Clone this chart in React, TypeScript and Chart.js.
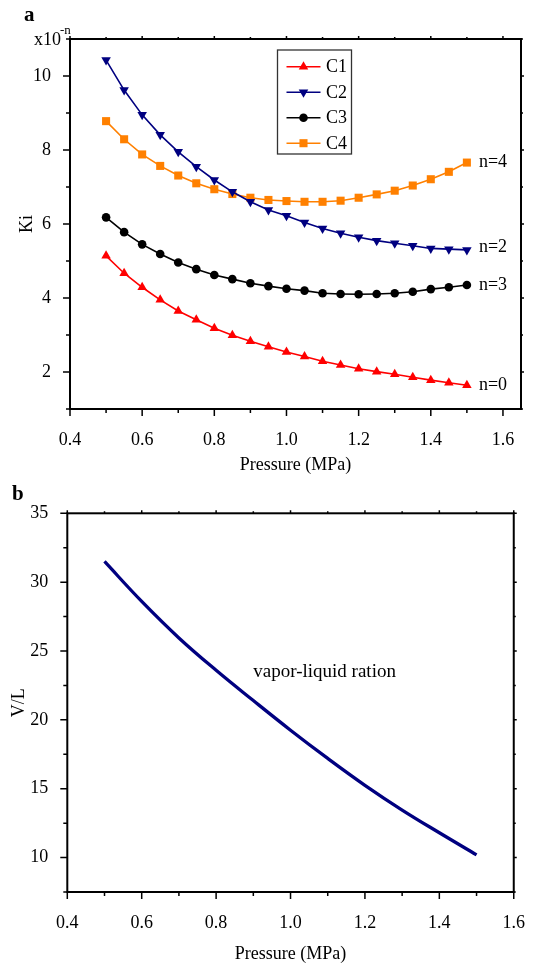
import React, { useEffect, useRef } from 'react';
import { Chart, registerables } from 'chart.js';

Chart.register(...registerables);

// ---------- Panel a data ----------
const pressureA = [0.5, 0.55, 0.6, 0.65, 0.7, 0.75, 0.8, 0.85, 0.9, 0.95, 1.0, 1.05, 1.1, 1.15, 1.2, 1.25, 1.3, 1.35, 1.4, 1.45, 1.5];
const kiC1 = [5.14, 4.67, 4.29, 3.95, 3.65, 3.41, 3.18, 2.99, 2.83, 2.68, 2.54, 2.42, 2.29, 2.19, 2.09, 2.01, 1.94, 1.86, 1.78, 1.71, 1.64];
const kiC2 = [10.43, 9.62, 8.95, 8.41, 7.95, 7.55, 7.19, 6.87, 6.6, 6.38, 6.22, 6.04, 5.88, 5.75, 5.64, 5.55, 5.48, 5.41, 5.34, 5.32, 5.3];
const kiC3 = [6.18, 5.78, 5.45, 5.19, 4.96, 4.78, 4.62, 4.51, 4.4, 4.32, 4.25, 4.2, 4.13, 4.11, 4.1, 4.11, 4.13, 4.17, 4.24, 4.29, 4.35];
const kiC4 = [8.78, 8.29, 7.88, 7.57, 7.31, 7.1, 6.94, 6.81, 6.71, 6.65, 6.62, 6.6, 6.6, 6.63, 6.71, 6.8, 6.9, 7.04, 7.21, 7.41, 7.66];
const seriesNames = ['C1', 'C2', 'C3', 'C4'];
const seriesNotes = ['n=0', 'n=2', 'n=3', 'n=4'];
const xTicksA = [0.4, 0.6, 0.8, 1.0, 1.2, 1.4, 1.6];
const yTicksA = [2, 4, 6, 8, 10];

// ---------- Panel b data ----------
const pressureB = [0.5, 0.6, 0.7, 0.8, 0.9, 1.0, 1.1, 1.2, 1.3, 1.4, 1.5];
const vlRatio = [31.5, 28.6, 25.95, 23.6, 21.4, 19.25, 17.2, 15.25, 13.45, 11.8, 10.2];
const xTicksB = [0.4, 0.6, 0.8, 1.0, 1.2, 1.4, 1.6];
const yTicksB = [10, 15, 20, 25, 30, 35];

const FONT = "'Liberation Serif', 'Times New Roman', serif";

function minorValues(ticks: number[], min: number, max: number) {
  const step = ticks[1] - ticks[0];
  const out: number[] = [];
  for (let v = ticks[0] - step / 2; v <= max + 1e-9; v += step) {
    if (v >= min - 1e-9) out.push(v);
  }
  return out;
}

function framePlugin(xMajor: number[], yMajor: number[]) {
  return {
    id: 'frameTicks',
    afterDatasetsDraw(chart: any) {
      const { ctx, chartArea: a, scales } = chart;
      const xs = scales.x;
      const ys = scales.y;
      ctx.save();
      ctx.strokeStyle = '#000';
      ctx.lineWidth = 1.5;
      const xMin = minorValues(xMajor, xs.min, xs.max);
      const yMin = minorValues(yMajor, ys.min, ys.max);
      ctx.beginPath();
      xMajor.forEach((v) => {
        const p = xs.getPixelForValue(v);
        ctx.moveTo(p, a.bottom); ctx.lineTo(p, a.bottom + 7);
        ctx.moveTo(p, a.top); ctx.lineTo(p, a.top - 3);
      });
      xMin.forEach((v) => {
        const p = xs.getPixelForValue(v);
        ctx.moveTo(p, a.bottom); ctx.lineTo(p, a.bottom + 4);
        ctx.moveTo(p, a.top); ctx.lineTo(p, a.top - 2);
      });
      yMajor.forEach((v) => {
        const p = ys.getPixelForValue(v);
        ctx.moveTo(a.left, p); ctx.lineTo(a.left - 7, p);
        ctx.moveTo(a.right, p); ctx.lineTo(a.right + 3, p);
      });
      yMin.forEach((v) => {
        const p = ys.getPixelForValue(v);
        ctx.moveTo(a.left, p); ctx.lineTo(a.left - 4, p);
        ctx.moveTo(a.right, p); ctx.lineTo(a.right + 2, p);
      });
      ctx.stroke();
      ctx.lineWidth = 2;
      ctx.strokeRect(a.left, a.top, a.right - a.left, a.bottom - a.top);
      ctx.restore();
    },
  };
}

function drawMarker(ctx: CanvasRenderingContext2D, style: string, x: number, y: number, r: number, color: string) {
  ctx.save();
  ctx.fillStyle = color;
  ctx.beginPath();
  if (style === 'circle') {
    ctx.arc(x, y, r, 0, Math.PI * 2);
  } else if (style === 'rect') {
    const s = r * Math.SQRT1_2;
    ctx.rect(x - s, y - s, 2 * s, 2 * s);
  } else if (style === 'triangle') {
    ctx.moveTo(x, y - r);
    ctx.lineTo(x + r * 0.866, y + r / 2);
    ctx.lineTo(x - r * 0.866, y + r / 2);
    ctx.closePath();
  } else if (style === 'triangleDown') {
    ctx.moveTo(x, y + r);
    ctx.lineTo(x + r * 0.866, y - r / 2);
    ctx.lineTo(x - r * 0.866, y - r / 2);
    ctx.closePath();
  }
  ctx.fill();
  ctx.restore();
}

const markerStyles = ['triangle', 'triangleDown', 'circle', 'rect'];
const markerColors = ['#ff0000', '#000080', '#000000', '#ff8000'];
const markerRadius = [5.5, 5.5, 4.3, 5.7];

const panelAExtras = {
  id: 'panelAExtras',
  afterDraw(chart: any) {
    const { ctx, chartArea: a } = chart;
    ctx.save();
    ctx.fillStyle = '#000';
    ctx.font = `bold 21px ${FONT}`;
    ctx.textAlign = 'left';
    ctx.textBaseline = 'alphabetic';
    ctx.fillText('a', 24, 21);
    ctx.font = `18px ${FONT}`;
    ctx.textAlign = 'right';
    ctx.fillText('x10', a.left - 9, a.top + 6);
    ctx.font = `13px ${FONT}`;
    ctx.textAlign = 'left';
    ctx.fillText('-n', a.left - 10, a.top - 5.5);
    ctx.font = `18px ${FONT}`;
    ctx.textBaseline = 'middle';
    chart.data.datasets.forEach((ds: any, i: number) => {
      const meta = chart.getDatasetMeta(i);
      const last = meta.data[meta.data.length - 1];
      ctx.fillText(seriesNotes[i], last.x + 12, last.y + (i === 1 ? -3 : 0));
    });
    const bx = 277.5, by = 50, bw = 74, bh = 104;
    ctx.strokeStyle = '#333';
    ctx.lineWidth = 1.3;
    ctx.strokeRect(bx, by, bw, bh);
    seriesNames.forEach((name, i) => {
      const y = 66.7 + i * 25.5;
      ctx.strokeStyle = markerColors[i];
      ctx.lineWidth = 1.6;
      ctx.beginPath();
      ctx.moveTo(286.5, y);
      ctx.lineTo(320.5, y);
      ctx.stroke();
      drawMarker(ctx, markerStyles[i], 303.5, y, markerRadius[i], markerColors[i]);
      ctx.fillStyle = '#000';
      ctx.textAlign = 'left';
      ctx.textBaseline = 'middle';
      ctx.font = `18px ${FONT}`;
      ctx.fillText(name, 326, y + 1);
    });
    ctx.restore();
  },
};

const panelBExtras = {
  id: 'panelBExtras',
  afterDraw(chart: any) {
    const { ctx, scales } = chart;
    ctx.save();
    ctx.fillStyle = '#000';
    ctx.font = `bold 21px ${FONT}`;
    ctx.textAlign = 'left';
    ctx.textBaseline = 'alphabetic';
    ctx.fillText('b', 12, 19.5);
    ctx.font = `19px ${FONT}`;
    ctx.textBaseline = 'middle';
    ctx.fillText('vapor-liquid ration', scales.x.getPixelForValue(0.9), scales.y.getPixelForValue(23.5));
    ctx.restore();
  },
};

function axisFont(size = 18) {
  return { family: FONT, size };
}

export default function App() {
  const refA = useRef<HTMLCanvasElement>(null);
  const refB = useRef<HTMLCanvasElement>(null);

  useEffect(() => {
    const seriesData = [kiC1, kiC2, kiC3, kiC4];
    const pointStyles: any[] = ['triangle', 'triangle', 'circle', 'rect'];
    const rotations = [0, 180, 0, 0];
    const chartA = new Chart(refA.current!, {
      type: 'line',
      data: {
        datasets: seriesData.map((arr, i) => ({
          label: seriesNames[i],
          data: pressureA.map((x, j) => ({ x, y: arr[j] })),
          borderColor: markerColors[i],
          backgroundColor: markerColors[i],
          pointBackgroundColor: markerColors[i],
          pointBorderColor: markerColors[i],
          pointStyle: pointStyles[i],
          pointRotation: rotations[i],
          pointRadius: markerRadius[i],
          pointBorderWidth: 0,
          borderWidth: 1.6,
          tension: 0,
          fill: false,
        })),
      },
      options: {
        animation: false,
        responsive: false,
        layout: { padding: { left: 0, right: 16, top: 39, bottom: 4 } },
        plugins: { legend: { display: false }, tooltip: { enabled: false } },
        scales: {
          x: {
            type: 'linear',
            min: 0.4,
            max: 1.65,
            afterBuildTicks: (s: any) => { s.ticks = xTicksA.map((v) => ({ value: v })); },
            afterFit: (s: any) => { s.height = 67; },
            grid: { display: false },
            border: { display: false },
            ticks: { padding: 12, color: '#000', font: axisFont(18), maxRotation: 0, callback: (v: any) => Number(v).toFixed(1) },
            title: { display: true, text: 'Pressure (MPa)', color: '#000', font: axisFont(18), padding: 0 },
          },
          y: {
            type: 'linear',
            min: 1,
            max: 11,
            afterBuildTicks: (s: any) => { s.ticks = yTicksA.map((v) => ({ value: v })); },
            afterFit: (s: any) => { s.width = 70; },
            grid: { display: false },
            border: { display: false },
            ticks: { padding: 11, color: '#000', font: axisFont(18), callback: (v: any) => String(v) },
            title: { display: true, text: 'Ki', color: '#000', font: axisFont(18), padding: { top: 16, bottom: 0 } },
          },
        },
      },
      plugins: [framePlugin(xTicksA, yTicksA), panelAExtras],
    } as any);

    const chartB = new Chart(refB.current!, {
      type: 'line',
      data: {
        datasets: [
          {
            label: 'V/L',
            data: pressureB.map((x, j) => ({ x, y: vlRatio[j] })),
            borderColor: '#000080',
            borderWidth: 3.3,
            pointRadius: 0,
            tension: 0.4,
            fill: false,
          },
        ],
      },
      options: {
        animation: false,
        responsive: false,
        layout: { padding: { left: 0, right: 21.5, top: 33.3, bottom: 0 } },
        plugins: { legend: { display: false }, tooltip: { enabled: false } },
        scales: {
          x: {
            type: 'linear',
            min: 0.4,
            max: 1.6,
            afterBuildTicks: (s: any) => { s.ticks = xTicksB.map((v) => ({ value: v })); },
            afterFit: (s: any) => { s.height = 73; },
            grid: { display: false },
            border: { display: false },
            ticks: { padding: 12, color: '#000', font: axisFont(18), maxRotation: 0, callback: (v: any) => Number(v).toFixed(1) },
            title: { display: true, text: 'Pressure (MPa)', color: '#000', font: axisFont(18), padding: 0 },
          },
          y: {
            type: 'linear',
            min: 7.5,
            max: 35,
            afterBuildTicks: (s: any) => { s.ticks = yTicksB.map((v) => ({ value: v })); },
            afterFit: (s: any) => { s.width = 67.3; },
            grid: { display: false },
            border: { display: false },
            ticks: { padding: 11, color: '#000', font: axisFont(18), callback: (v: any) => String(v) },
            title: { display: true, text: 'V/L', color: '#000', font: axisFont(18), padding: { top: 8, bottom: 0 } },
          },
        },
      },
      plugins: [framePlugin(xTicksB, yTicksB), panelBExtras],
    } as any);

    return () => {
      chartA.destroy();
      chartB.destroy();
    };
  }, []);

  return (
    <div style={{ position: 'absolute', left: 0, top: 0, width: 537, height: 965, background: '#fff' }}>
      <canvas ref={refA} width={537} height={480} style={{ position: 'absolute', left: 0, top: 0, width: 537, height: 480 }} />
      <canvas ref={refB} width={537} height={485} style={{ position: 'absolute', left: 0, top: 480, width: 537, height: 485 }} />
    </div>
  );
}
